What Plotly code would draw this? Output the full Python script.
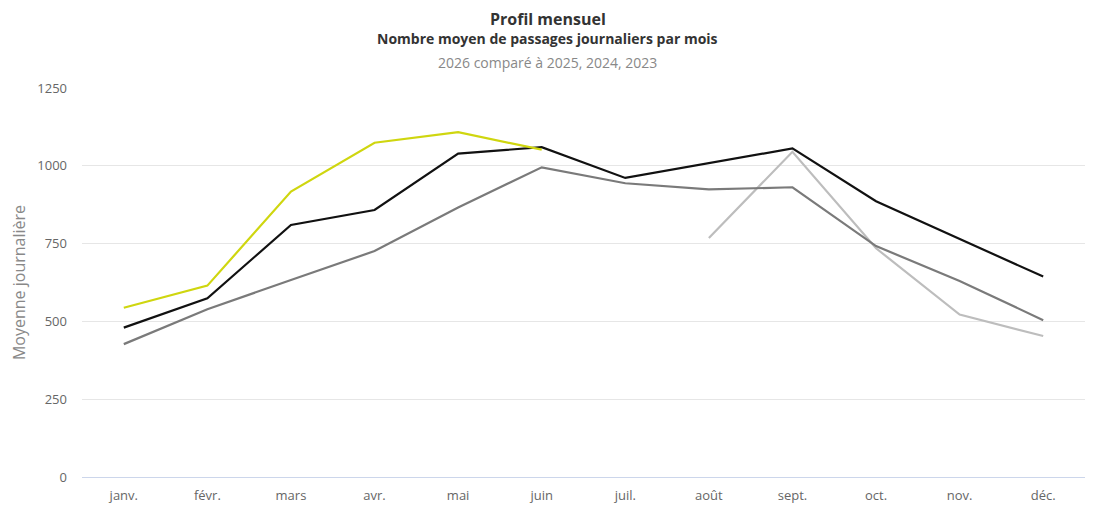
import plotly.graph_objects as go

months = ["janv.", "févr.", "mars", "avr.", "mai", "juin", "juil.", "août", "sept.", "oct.", "nov.", "déc."]
y2026 = [544, 615, 917, 1074, 1108, 1052, None, None, None, None, None, None]
y2025 = [480, 574, 810, 858, 1039, 1060, 961, 1008, 1056, 886, 765, 644]
y2024 = [427, 539, 633, 726, 866, 995, 944, 924, 931, 742, 630, 504]
y2023 = [None, None, None, None, None, None, None, 768, 1045, 735, 522, 453]

series = [
    ("2023", y2023, "#bdbdbd"),
    ("2024", y2024, "#7a7a7a"),
    ("2025", y2025, "#111111"),
    ("2026", y2026, "#cfd60f"),
]

fig = go.Figure()
for name, vals, color in series:
    fig.add_trace(go.Scatter(
        x=months, y=vals, name=name, mode="lines",
        line=dict(color=color, width=2.2),
        connectgaps=False,
    ))

font_family = "Open Sans, sans-serif"

# page body has an 8px offset; compensate
OFF = 8
W, H = 1095 - OFF, 513 - OFF
ML, MR, MT, MB = 82 - OFF, 10, 88 - OFF, 36
plot_h = H - MT - MB
plot_w = W - ML - MR

fig.update_layout(
    width=W, height=H,
    margin=dict(l=ML, r=MR, t=MT, b=MB, autoexpand=False),
    paper_bgcolor="white", plot_bgcolor="white",
    showlegend=False,
    font=dict(family=font_family, color="#666666", size=13),
    xaxis=dict(
        type="category", range=[-0.5, 11.5],
        showgrid=False, zeroline=False,
        showline=False,
        tickfont=dict(size=13, color="#666666"),
        ticklabelstandoff=9,
    ),
    yaxis=dict(
        range=[0, 1250], tickvals=[0, 250, 500, 750, 1000, 1250],
        showgrid=True, gridcolor="#e6e6e6", gridwidth=1,
        zeroline=True, zerolinecolor="#ccd6eb", zerolinewidth=1,
        showline=False,
        tickfont=dict(size=13, color="#666666"),
        ticklabelstandoff=14,
        title=dict(text="Moyenne journalière", font=dict(size=16, color="#888888"), standoff=10),
    ),
)

titles = [
    ("<b>Profil mensuel</b>", 19, 16, "#333333"),
    ("<b>Nombre moyen de passages journaliers par mois</b>", 38, 14, "#333333"),
    ("2026 comparé à 2025, 2024, 2023", 62, 14, "#888888"),
]
page_center = 1095 / 2 - OFF
for text, ypx, size, color in titles:
    fig.add_annotation(
        text=text, showarrow=False, xref="paper", yref="paper",
        x=(page_center - ML) / plot_w, y=1 + (MT - (ypx - OFF)) / plot_h,
        xanchor="center", yanchor="middle", borderpad=0,
        font=dict(size=size, color=color, family=font_family),
    )

fig.write_html("out.html")
